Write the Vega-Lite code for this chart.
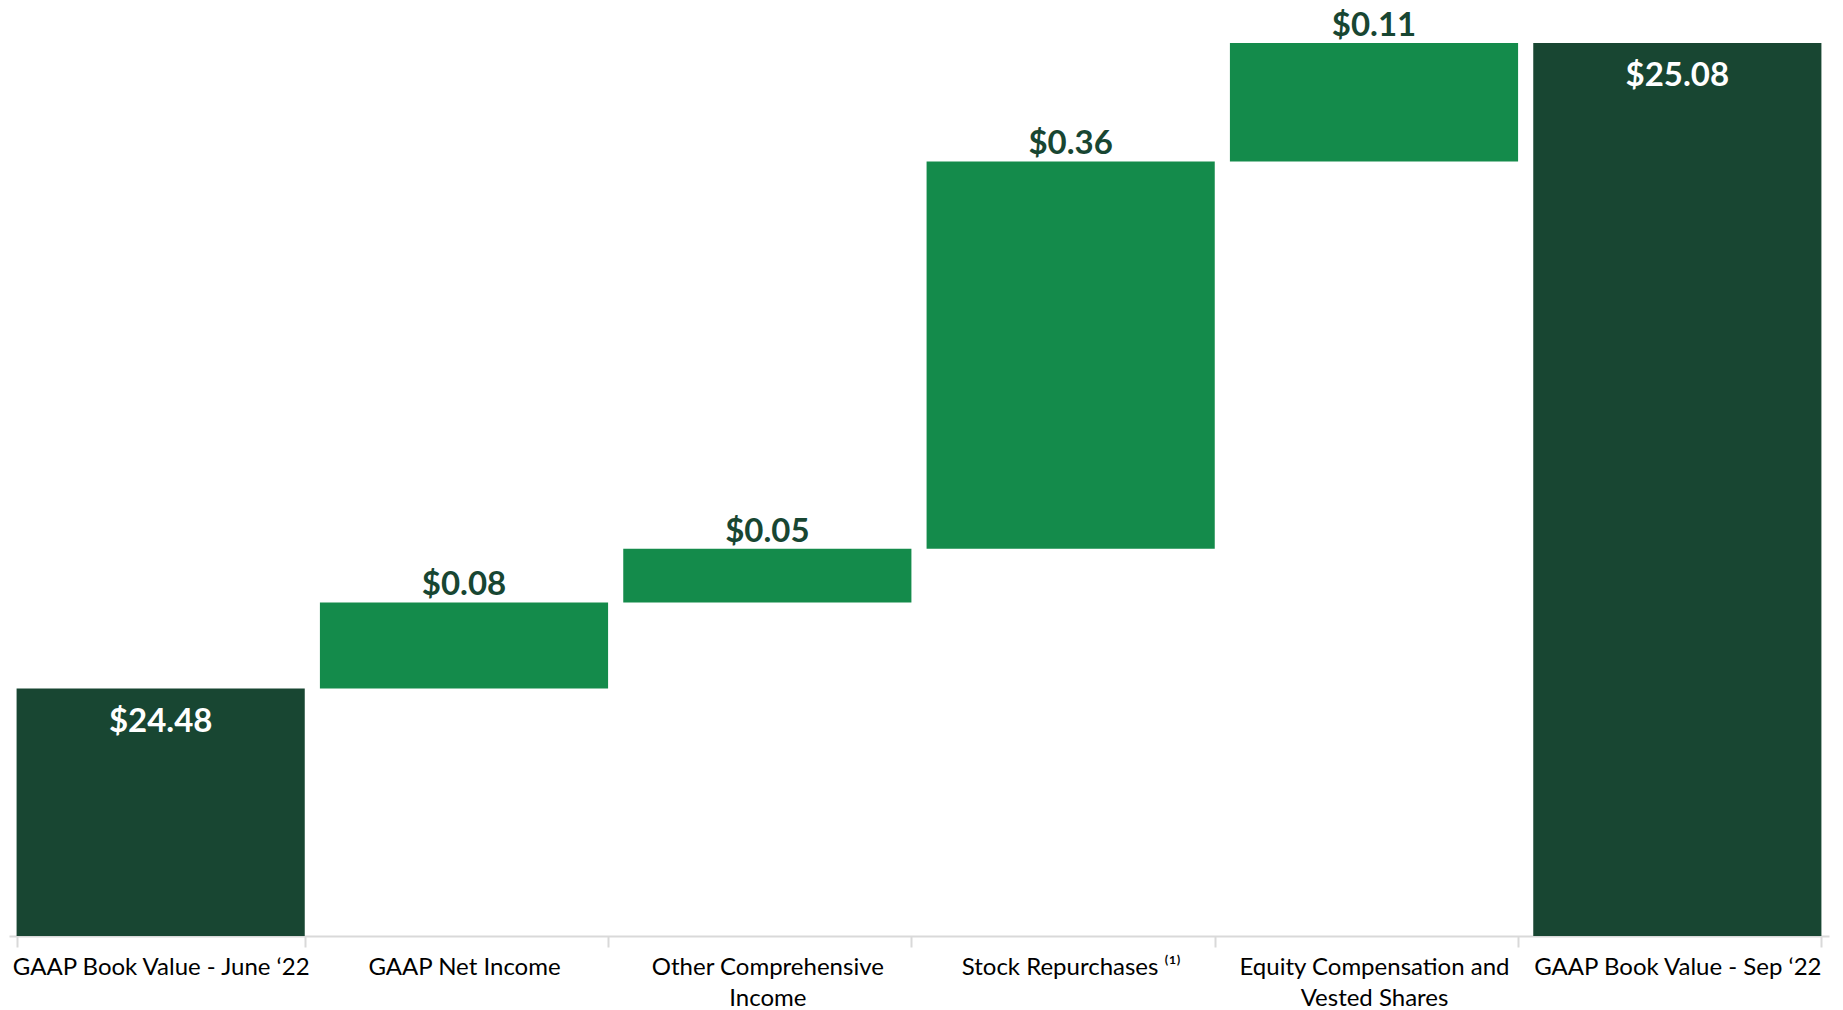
{
  "$schema": "https://vega.github.io/schema/vega-lite/v6.json",
  "width": 1820,
  "height": 936,
  "autosize": {"type": "none"},
  "padding": {"left": 9, "top": 0, "right": 14, "bottom": 74},
  "background": "white",
  "config": {"view": {"stroke": null}, "font": "Lato"},
  "data": {
    "values": [
      {"label": "GAAP Book Value - June ‘22", "start": 0, "end": 24.48, "kind": "total", "text": "$24.48"},
      {"label": "GAAP Net Income", "start": 24.48, "end": 24.56, "kind": "delta", "text": "$0.08"},
      {"label": "Other Comprehensive Income", "start": 24.56, "end": 24.61, "kind": "delta", "text": "$0.05"},
      {"label": "Stock Repurchases ⁽¹⁾", "start": 24.61, "end": 24.97, "kind": "delta", "text": "$0.36"},
      {"label": "Equity Compensation and Vested Shares", "start": 24.97, "end": 25.08, "kind": "delta", "text": "$0.11"},
      {"label": "GAAP Book Value - Sep ‘22", "start": 0, "end": 25.08, "kind": "total", "text": "$25.08"}
    ]
  },
  "encoding": {
    "x": {
      "field": "label",
      "type": "nominal",
      "sort": null,
      "scale": {"paddingInner": 0.05, "paddingOuter": 0.025},
      "axis": {
        "title": null,
        "labelAngle": 0,
        "labelFont": "Lato",
        "labelFontSize": 24,
        "labelLimit": 400,
        "labelColor": "#000000",
        "labelBaseline": "middle",
        "labelPadding": 20,
        "labelLineHeight": 31,
        "tickBand": "extent",
        "tickSize": 11,
        "tickColor": "#D9D9D9",
        "tickWidth": 2,
        "domainColor": "#D9D9D9",
        "domainWidth": 2,
        "labelExpr": "datum.value == 'Other Comprehensive Income' ? ['Other Comprehensive', 'Income'] : datum.value == 'Equity Compensation and Vested Shares' ? ['Equity Compensation and', 'Vested Shares'] : datum.value"
      }
    }
  },
  "layer": [
    {
      "mark": {"type": "bar", "clip": true},
      "encoding": {
        "y": {
          "field": "end",
          "type": "quantitative",
          "scale": {"domain": [24.25, 25.12], "zero": false, "nice": false},
          "axis": null
        },
        "y2": {"field": "start"},
        "color": {
          "field": "kind",
          "type": "nominal",
          "scale": {"domain": ["total", "delta"], "range": ["#184632", "#148B4B"]},
          "legend": null
        }
      }
    },
    {
      "transform": [{"filter": "datum.kind == 'delta'"}],
      "mark": {"type": "text", "font": "Lato", "fontSize": 33, "fontWeight": "bold", "color": "#184632", "baseline": "alphabetic", "dy": -7},
      "encoding": {
        "y": {"field": "end", "type": "quantitative"},
        "text": {"field": "text"}
      }
    },
    {
      "transform": [{"filter": "datum.kind == 'total'"}],
      "mark": {"type": "text", "font": "Lato", "fontSize": 33, "fontWeight": "bold", "color": "#FFFFFF", "baseline": "alphabetic", "dy": 43},
      "encoding": {
        "y": {"field": "end", "type": "quantitative"},
        "text": {"field": "text"}
      }
    }
  ]
}
